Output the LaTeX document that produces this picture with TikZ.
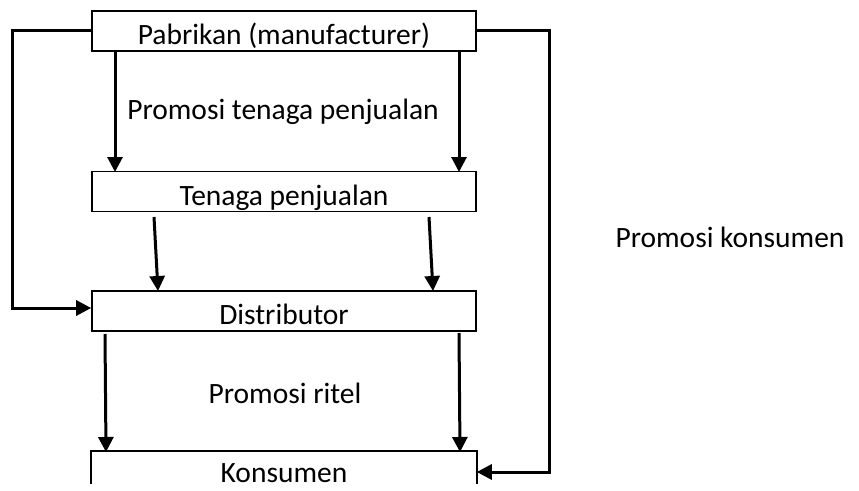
\documentclass[tikz,border=0pt]{standalone}
\usepackage{fontspec}
\setmainfont{Carlito}
\usetikzlibrary{arrows.meta}
\begin{document}
\begin{tikzpicture}[x=1pt,y=-1pt,
  lbl/.style={font=\fontsize{29.5}{32}\selectfont, inner sep=0pt},
  boxline/.style={line width=1.6pt},
  box/.style={draw, boxline, minimum width=384pt, minimum height=40pt, inner sep=0pt, text height=27pt, text depth=0pt, font=\fontsize{29.5}{32}\selectfont},
  conn/.style={line width=3pt, line join=miter, -{Triangle[length=15pt,width=15pt]}}]
\useasboundingbox (0,0) rectangle (859,490);
\fill[white] (0,0) rectangle (859,490);
% boxes
\node[box] (pab) at (284,31) {Pabrikan (manufacturer)};
\node[box] (ten) at (284,191.5) {Tenaga penjualan};
\node[box] (dis) at (284,311) {Distributor};
\node[box, draw=none, minimum height=37pt, text height=24pt] (kon) at (284,470.5) {Konsumen};
\draw[boxline] ([yshift=6pt]kon.south west) |- (kon.north east) -- ([yshift=6pt]kon.south east);
% labels
\node[lbl] (l1) at (283,112) {Promosi tenaga penjualan};
\node[lbl] (l2) at (285,393) {Promosi ritel};
\node[lbl] (l3) at (730,237) {Promosi konsumen};
% coordinates for slight offsets
\coordinate (a1s) at (115,52); \coordinate (a1e) at (115,172);
\coordinate (a2s) at (459,52); \coordinate (a2e) at (459,172);
\coordinate (a3s) at (154,217); \coordinate (a3e) at (158,291);
\coordinate (a4s) at (429,217); \coordinate (a4e) at (433,291);
\coordinate (a5s) at (105,334); \coordinate (a5e) at (106,452);
\coordinate (a6s) at (459,333); \coordinate (a6e) at (460,452);
\coordinate (lc1) at (12,30); \coordinate (lc2) at (12,308);
\coordinate (rc1) at (549,30); \coordinate (rc2) at (549,472);
% vertical arrows
\draw[conn] (a1s) -- (a1e);
\draw[conn] (a2s) -- (a2e);
\draw[conn] (a3s) -- (a3e);
\draw[conn] (a4s) -- (a4e);
\draw[conn] (a5s) -- (a5e);
\draw[conn] (a6s) -- (a6e);
% loops
\draw[conn] (pab.west |- lc1) -- (lc1) -- (lc2) -- (dis.west |- lc2);
\draw[conn] (pab.east |- rc1) -- (rc1) -- (rc2) -- (kon.east |- rc2);
\end{tikzpicture}
\end{document}
